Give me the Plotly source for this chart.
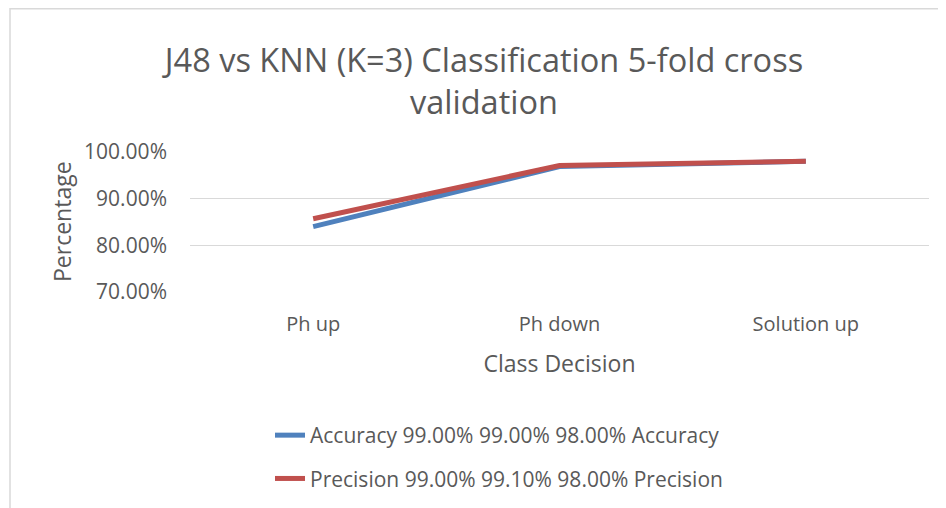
import plotly.graph_objects as go

categories = ["Ph up", "Ph down", "Solution up"]
accuracy = [0.840, 0.969, 0.980]
precision = [0.857, 0.971, 0.980]
series_names = [
    "Accuracy 99.00% 99.00% 98.00% Accuracy",
    "Precision 99.00% 99.10% 98.00% Precision",
]
y_ticks = [0.70, 0.80, 0.90, 1.00]
y_tick_labels = ["70.00%", "80.00%", "90.00%", "100.00%"]

# page has an 8px body margin, so the figure is 8px smaller than the window
W, H = 938, 500
ML, MR, MT, MB = 182, 17, 144, 216
PW, PH = W - ML - MR, H - MT - MB

FONT = "Open Sans, Liberation Sans, sans-serif"
TXT = "#595959"

fig = go.Figure()
fig.add_trace(go.Scatter(x=categories, y=accuracy, mode="lines", name=series_names[0],
                         line=dict(color="#4F81BD", width=5), legendgroup="a"))
fig.add_trace(go.Scatter(x=categories, y=precision, mode="lines", name=series_names[1],
                         line=dict(color="#C0504D", width=5), legendgroup="b"))

# chart border (light gray frame)
fig.add_shape(type="rect", xref="paper", yref="paper",
              x0=(2 - ML) / PW, x1=(975 - ML) / PW,
              y0=(H - MB - 530) / PH, y1=(H - MB - 0.8) / PH,
              line=dict(color="#D9D9D9", width=1.5), fillcolor="rgba(0,0,0,0)", layer="below")

# y-axis title as rotated text
fig.add_annotation(text="Percentage", xref="paper", yref="paper",
                   x=(54 - ML) / PW, y=0.5, textangle=-90, showarrow=False,
                   xanchor="center", yanchor="middle",
                   font=dict(size=23, color=TXT, family=FONT))

fig.update_layout(
    width=W, height=H,
    margin=dict(l=ML, r=MR, t=MT, b=MB, autoexpand=False),
    paper_bgcolor="white", plot_bgcolor="white",
    font=dict(family=FONT, color=TXT),
    title=dict(text="J48 vs KNN (K=3) Classification 5-fold cross<br>validation",
               x=476 / W, xanchor="center", xref="container",
               y=1 - 64 / H, yanchor="top", yref="container",
               font=dict(size=32.5, color=TXT, family=FONT)),
    xaxis=dict(type="category", range=[-0.5, 2.5], showgrid=False, showline=False,
               zeroline=False, tickfont=dict(size=20, color=TXT), ticks="",
               ticklabelstandoff=18, tickangle=0, automargin=False,
               title=dict(text="Class Decision", font=dict(size=23, color=TXT), standoff=19)),
    yaxis=dict(range=[0.70, 1.0], tickvals=y_ticks, ticktext=y_tick_labels,
               showgrid=True, gridcolor="#D9D9D9", gridwidth=1.3, zeroline=False,
               showline=False, ticks="", ticklabelstandoff=22, automargin=False,
               tickfont=dict(size=21, color=TXT)),
    showlegend=True,
    legend=dict(xref="container", yref="container", x=262 / W, y=1 - 407 / H,
                xanchor="left", yanchor="top", orientation="v",
                font=dict(size=21, color=TXT), tracegroupgap=13,
                itemwidth=30, bgcolor="rgba(0,0,0,0)"),
)

fig.write_html("out.html")
